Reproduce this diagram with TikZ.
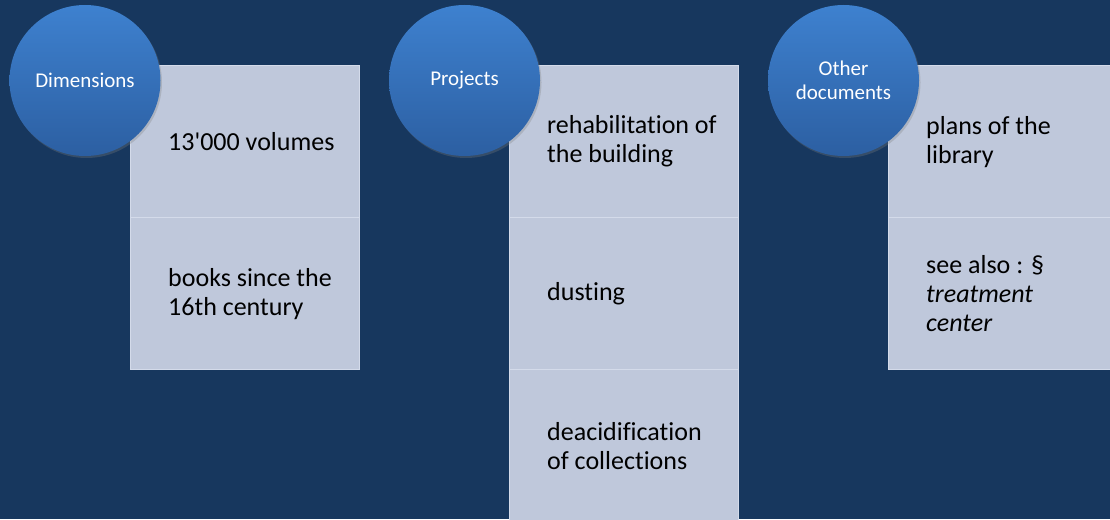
\documentclass[tikz,border=0pt]{standalone}
\usepackage{fontspec}
\setmainfont{Carlito}[Ligatures=NoCommon]
\usetikzlibrary{positioning,shadows}

\definecolor{bgblue}{HTML}{17375E}
\definecolor{cellfill}{HTML}{BFC8DB}
\definecolor{cellline}{HTML}{D4DBEA}
\definecolor{balltop}{HTML}{3E81CF}
\definecolor{ballbot}{HTML}{2C5FA2}
\newcommand{\sq}{\XeTeXglyph\XeTeXcharglyph"0027\relax}

\begin{document}
\begin{tikzpicture}[x=1pt,y=1pt]
\tikzstyle{every node}+=[inner sep=0pt]
\tikzstyle{cell}=[draw=cellline, line width=1.3pt, fill=cellfill, minimum width=229pt, minimum height=152pt, anchor=north west]
\tikzstyle{celltext}=[align=left, font=\fontsize{26}{29}\selectfont, text=black]
\tikzstyle{ball}=[circle, minimum size=151pt, top color=balltop, bottom color=ballbot, text=white, align=center, font=\fontsize{21}{24}\selectfont, drop shadow={opacity=0.3, shadow xshift=1.5pt, shadow yshift=-2pt}]
\useasboundingbox (0,0) rectangle (1110,-519);
\fill [bgblue] (0,0) rectangle (1110,-519);
% Dimensions
\node [cell] (dim1) at (130,-65) {};
\node [cell] (dim2) at (130,-217) {};
\node [celltext, right=38pt of dim1.west] (dimt1) {13\sq000 volumes};
\node [celltext, right=38pt of dim2.west] (dimt2) {books since the\\16th century};
% Projects
\node [cell] (proj1) at (509,-65) {};
\node [cell] (proj2) at (509,-217) {};
\node [cell] (proj3) at (509,-369) {};
\node [celltext, right=38pt of proj1.west] (projt1) {rehabilitation of\\the building};
\node [celltext, right=38pt of proj2.west] (projt2) {dusting};
\node [celltext, right=38pt of proj3.west] (projt3) {deacidification\\of collections};
% Other documents
\node [cell] (doc1) at (888,-65) {};
\node [cell] (doc2) at (888,-217) {};
\node [celltext, right=38pt of doc1.west] (doct1) {plans of the\\library};
\node [celltext, right=38pt of doc2.west] (doct2) {see also : §\\\textit{treatment}\\\textit{center}};
% circles
\node [ball] (dimb) at (85,-80.5) {Dimensions};
\node [ball] (projb) at (464.5,-80.5) {Projects};
\node [ball] (docb) at (843.5,-80.5) {Other\\documents};
\end{tikzpicture}
\end{document}
